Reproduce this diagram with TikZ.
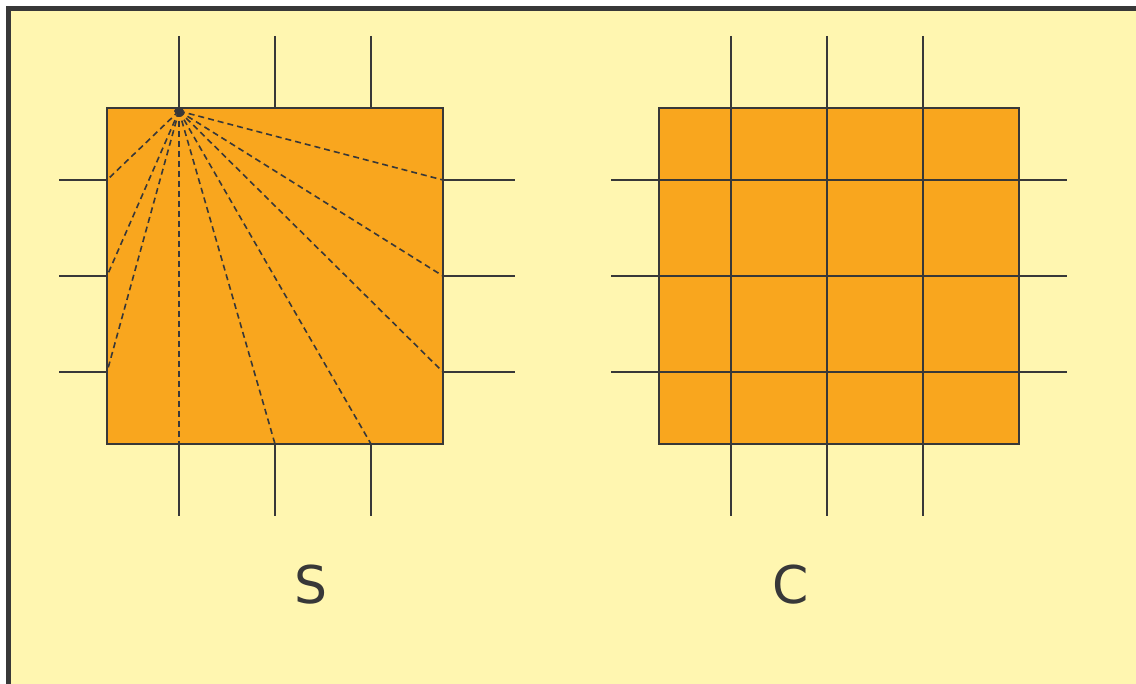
\documentclass[tikz,border=0pt]{standalone}
\usepackage{fontspec}
\setmainfont{DejaVu Sans}
\definecolor{bgy}{HTML}{FFF6B0}
\definecolor{org}{HTML}{F9A61E}
\definecolor{ink}{HTML}{383838}
\begin{document}
\begin{tikzpicture}[x=1pt,y=-1pt,
  tick/.style={draw=ink,line width=1.8pt},
  sq/.style={draw=ink,fill=org,line width=1.8pt},
  ray/.style={draw=ink,line width=1.6pt,dash pattern=on 6pt off 4pt},
  lbl/.style={text=ink,font=\fontsize{52}{60}\selectfont,inner sep=0pt}]
\useasboundingbox (0,0) rectangle (1136,684);
\fill[white] (0,0) rectangle (1136,684);
\filldraw[fill=bgy,draw=ink,line width=5pt] (8.5,9) rectangle (1150,700);
% left figure
\foreach \x in {179,275,371} {
  \draw[tick] (\x,36) -- (\x,108);
  \draw[tick] (\x,444) -- (\x,516);
}
\foreach \y in {180,276,372} {
  \draw[tick] (59,\y) -- (107,\y);
  \draw[tick] (443,\y) -- (515,\y);
}
\path[sq] (107,108) rectangle (443,444);
\coordinate (o) at (179,111);
\foreach \p in {(107,180),(107,276),(107,372),(179,444),(275,444),(371,444),(443,372),(443,276),(443,180)} {
  \draw[ray] (o) -- \p;
}
\fill[ink] (o) ellipse (5pt and 3.2pt);
\node[lbl] (S) at (311,585) {S};
% right figure
\path[sq] (659,108) rectangle (1019,444);
\foreach \x in {731,827,923} {
  \draw[tick] (\x,36) -- (\x,516);
}
\foreach \y in {180,276,372} {
  \draw[tick] (611,\y) -- (1067,\y);
}
\node[lbl] (C) at (791,585) {C};
\end{tikzpicture}
\end{document}
